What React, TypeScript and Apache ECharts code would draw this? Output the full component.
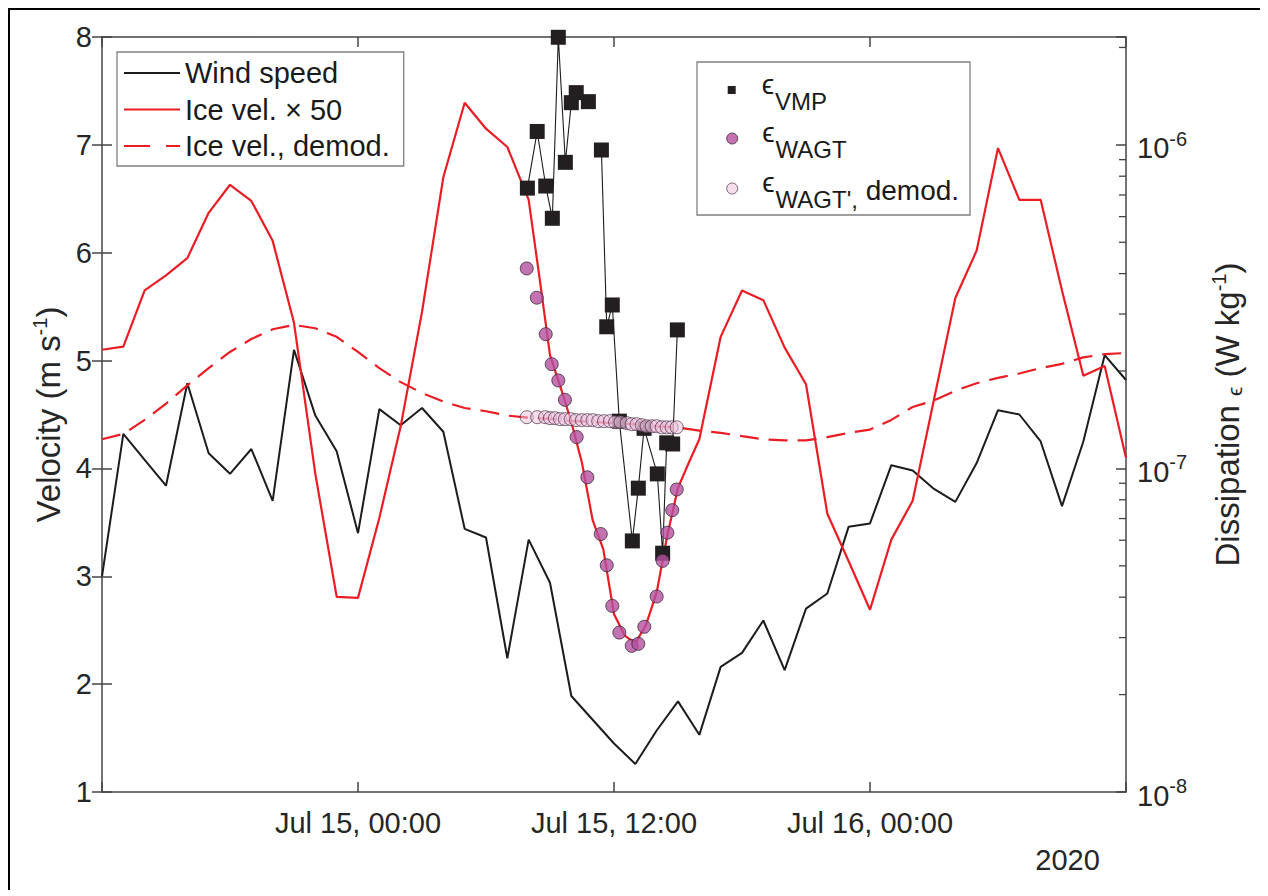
import React, { useEffect, useRef } from 'react';
import * as echarts from 'echarts';

// ---------- data (hours since 2020-07-14 12:00) ----------
const hours = [0, 1, 2, 3, 4, 5, 6, 7, 8, 9, 10, 11, 12, 13, 14, 15, 16, 17, 18, 19, 20, 21, 22, 23, 24,
  25, 26, 27, 28, 29, 30, 31, 32, 33, 34, 35, 36, 37, 38, 39, 40, 41, 42, 43, 44, 45, 46, 47, 48];

const windSpeed = [3.00, 4.32, 4.08, 3.84, 4.79, 4.14, 3.95, 4.18, 3.70, 5.10, 4.49, 4.16, 3.40, 4.55, 4.40,
  4.56, 4.34, 3.44, 3.36, 2.24, 3.34, 2.94, 1.89, 1.67, 1.45, 1.26, 1.57, 1.84, 1.53, 2.16, 2.29, 2.59, 2.13,
  2.70, 2.84, 3.46, 3.49, 4.03, 3.98, 3.81, 3.69, 4.05, 4.54, 4.50, 4.25, 3.65, 4.25, 5.05, 4.82];

const iceDemod = [4.27, 4.32, 4.45, 4.60, 4.77, 4.93, 5.08, 5.20, 5.29, 5.33, 5.30, 5.22, 5.08, 4.93, 4.80,
  4.70, 4.62, 4.56, 4.53, 4.49, 4.47, 4.46, 4.44, 4.43, 4.42, 4.41, 4.39, 4.38, 4.35, 4.33, 4.30, 4.27, 4.26,
  4.26, 4.29, 4.33, 4.36, 4.45, 4.57, 4.63, 4.72, 4.79, 4.84, 4.88, 4.93, 4.97, 5.03, 5.06, 5.07];

const iceHours = [0, 1, 2, 3, 4, 5, 6, 7, 8, 9, 10, 11, 12, 13, 14, 15, 16, 17, 18, 19, 20, 20.5, 21, 21.5,
  22, 22.5, 23, 23.5, 24, 24.5, 25, 25.5, 26, 26.5, 27, 27.5, 28, 29, 30, 31, 32, 33, 34, 35, 36, 37, 38, 39,
  40, 41, 42, 43, 44, 45, 46, 47, 48];
const iceVel50 = [5.10, 5.13, 5.65, 5.79, 5.95, 6.37, 6.63, 6.48, 6.11, 5.35, 3.95, 2.81, 2.80, 3.54, 4.39,
  5.45, 6.70, 7.39, 7.15, 6.98, 6.49, 5.78, 5.05, 4.75, 4.43, 4.05, 3.52, 3.25, 2.65, 2.45, 2.38, 2.55, 2.85,
  3.38, 3.82, 4.05, 4.27, 5.22, 5.65, 5.56, 5.12, 4.78, 3.58, 3.14, 2.69, 3.34, 3.70, 4.64, 5.58, 6.02, 6.97,
  6.49, 6.49, 5.65, 4.86, 4.95, 4.10];

const vmpHours = [19.94, 20.40, 20.80, 21.11, 21.39, 21.72, 22.00, 22.23, 22.80, 23.41, 23.66, 23.92, 24.25,
  24.86, 25.14, 25.41, 26.03, 26.28, 26.47, 26.75, 26.97];
const vmpEps = [7.35e-7, 1.10e-6, 7.46e-7, 5.93e-7, 2.15e-6, 8.83e-7, 1.35e-6, 1.45e-6, 1.36e-6, 9.64e-7,
  2.74e-7, 3.20e-7, 1.40e-7, 5.97e-8, 8.69e-8, 1.33e-7, 9.62e-8, 5.47e-8, 1.20e-7, 1.19e-7, 2.68e-7];
const vmpGapAfter = 8; // no connecting line between these two profiles

const wagtHours = [19.91, 20.38, 20.80, 21.08, 21.39, 21.70, 22.25, 22.75, 23.38, 23.66, 23.92, 24.25, 24.83,
  25.14, 25.42, 26.00, 26.28, 26.50, 26.73, 26.94];
const wagtEps = [4.15e-7, 3.37e-7, 2.60e-7, 2.10e-7, 1.87e-7, 1.63e-7, 1.25e-7, 9.39e-8, 6.27e-8, 5.02e-8,
  3.76e-8, 3.11e-8, 2.83e-8, 2.87e-8, 3.24e-8, 4.02e-8, 5.18e-8, 6.33e-8, 7.43e-8, 8.61e-8];

const demodHours = [19.91, 20.40, 20.77, 21.00, 21.23, 21.47, 21.70, 21.97, 22.22, 22.49, 22.75, 23.00, 23.26,
  23.53, 23.81, 24.05, 24.31, 24.60, 24.83, 25.06, 25.30, 25.53, 25.77, 26.00, 26.24, 26.47, 26.70, 26.94];
const demodEps = [1.44e-7, 1.44e-7, 1.44e-7, 1.43e-7, 1.43e-7, 1.42e-7, 1.42e-7, 1.42e-7, 1.41e-7, 1.41e-7,
  1.41e-7, 1.41e-7, 1.40e-7, 1.40e-7, 1.40e-7, 1.39e-7, 1.39e-7, 1.38e-7, 1.37e-7, 1.37e-7, 1.36e-7, 1.35e-7,
  1.35e-7, 1.35e-7, 1.34e-7, 1.34e-7, 1.34e-7, 1.34e-7];

const xTickHours = [12, 24, 36];
const xTickLabels = ['Jul 15, 00:00', 'Jul 15, 12:00', 'Jul 16, 00:00'];
const logMinorTicks = [2e-8, 3e-8, 4e-8, 5e-8, 6e-8, 7e-8, 8e-8, 9e-8, 2e-7, 3e-7, 4e-7, 5e-7, 6e-7, 7e-7,
  8e-7, 9e-7, 2e-6];
const yearLabel = '2020';

// ---------- styles ----------
const FONT = 'Liberation Sans, Arial, Helvetica, sans-serif';
const AX = '#444444';
const TXT = '#262626';
const RED = '#ea1c24';
const BLK = '#1c1c1c';

const NAME_WIND = 'Wind speed';
const NAME_ICE = 'Ice vel. × 50';
const NAME_ICE_DEMOD = 'Ice vel., demod.';
const NAME_VMP = 'ϵVMP';
const NAME_WAGT = 'ϵWAGT';
const NAME_DEMOD = "ϵWAGT', demod.";

const ICON_SOLID = 'path://M0,0H56V2.2H0Z';
const ICON_DASHED = 'path://M0,0H26V2.2H0Z M42,0H56V2.2H42Z';

function epsRich(padLeft: number) {
  const c = '#1a1a1a';
  return {
    e: { fontSize: 28, lineHeight: 40, verticalAlign: 'top', padding: [0, 0, 0, padLeft], fontFamily: FONT, color: c },
    s: { fontSize: 24, lineHeight: 40, verticalAlign: 'top', padding: [19.3, 0, 0, 1], fontFamily: FONT, color: c },
    d: { fontSize: 28, lineHeight: 40, verticalAlign: 'top', padding: [7.9, 0, 0, 0], fontFamily: FONT, color: c },
  };
}
const epsFormatter = (name: string) => {
  if (name === NAME_VMP) return '{e|ϵ}{s|VMP}';
  if (name === NAME_WAGT) return '{e|ϵ}{s|WAGT}';
  return "{e|ϵ}{s|WAGT',}{d| demod.}";
};

export default function App() {
  const ref = useRef<HTMLDivElement>(null);

  useEffect(() => {
    if (!ref.current) return;
    const chart = echarts.init(ref.current, null, { renderer: 'svg' });

    const windData = hours.map((h, i) => [h, windSpeed[i]]);
    const demodLine = hours.map((h, i) => [h, iceDemod[i]]);
    const iceData = iceHours.map((h, i) => [h, iceVel50[i]]);
    const vmpData: any[] = [];
    vmpHours.forEach((h, i) => {
      vmpData.push([h, vmpEps[i]]);
      if (i === vmpGapAfter) vmpData.push([h, '-']);
    });
    const wagtData = wagtHours.map((h, i) => [h, wagtEps[i]]);
    const demodData = demodHours.map((h, i) => [h, demodEps[i]]);

    const axisLine = { show: true, onZero: false, lineStyle: { color: AX, width: 1.5 } };
    const tick = { show: true, inside: true, length: 10, lineStyle: { color: AX, width: 1.5 } };

    const option: any = {
      animation: false,
      backgroundColor: '#fff',
      textStyle: { fontFamily: FONT },
      grid: { left: 92, top: 27, width: 1024, height: 755, containLabel: false, outerBoundsMode: 'none' },
      xAxis: [
        {
          type: 'value', min: 0, max: 48, interval: 12, position: 'bottom',
          axisLine, axisTick: tick, splitLine: { show: false },
          axisLabel: {
            fontSize: 29, color: TXT, fontFamily: FONT, margin: 16,
            formatter: (v: number) => {
              const k = xTickHours.indexOf(v);
              return k >= 0 ? xTickLabels[k] : '';
            },
          },
        },
        {
          type: 'value', min: 0, max: 48, interval: 12, position: 'top',
          axisLine, axisTick: tick, splitLine: { show: false }, axisLabel: { show: false },
        },
      ],
      yAxis: [
        {
          type: 'value', min: 1, max: 8, interval: 1, position: 'left',
          axisLine, axisTick: tick, splitLine: { show: false },
          axisLabel: { fontSize: 29, color: TXT, fontFamily: FONT, margin: 10 },
          name: '{n|Velocity (m s}{sup|-1}{n|)}',
          nameLocation: 'middle', nameGap: 31,
          nameTextStyle: {
            color: TXT, fontFamily: FONT, fontSize: 33,
            rich: {
              n: { fontSize: 33, lineHeight: 36, fontFamily: FONT, color: TXT },
              sup: { fontSize: 20, lineHeight: 21, verticalAlign: 'top', fontFamily: FONT, color: TXT },
            },
          },
        },
        {
          type: 'log', logBase: 10, min: 1e-8, max: 2.1544e-6, position: 'right',
          axisLine, axisTick: tick, splitLine: { show: false }, minorTick: { show: false },
          axisLabel: {
            margin: 11, color: TXT, fontFamily: FONT,
            formatter: (v: number) => {
              const e = Math.log10(v);
              const r = Math.round(e);
              if (Math.abs(e - r) > 1e-6) return '';
              return '{b|10}{s|' + r + '}';
            },
            rich: {
              b: { fontSize: 29, lineHeight: 32, padding: [5, 0, 0, 0], verticalAlign: 'top', fontFamily: FONT, color: TXT },
              s: { fontSize: 20, verticalAlign: 'top', fontFamily: FONT, color: TXT },
            },
          },
          name: '{n|Dissipation }{e|ϵ}{n| (W kg}{sup|-1}{n|)}',
          nameLocation: 'middle', nameGap: 83,
          nameTextStyle: {
            color: TXT, fontFamily: FONT, fontSize: 33,
            rich: {
              n: { fontSize: 33, lineHeight: 36, fontFamily: FONT, color: TXT },
              e: { fontSize: 21, lineHeight: 27.5, verticalAlign: 'bottom', fontFamily: FONT, color: TXT },
              sup: { fontSize: 20, lineHeight: 21, verticalAlign: 'top', fontFamily: FONT, color: TXT },
            },
          },
        },
        {
          type: 'value', min: 1, max: 8, interval: 1, position: 'right',
          axisLine: { show: false }, axisTick: tick, splitLine: { show: false }, axisLabel: { show: false },
        },
      ],
      legend: [
        {
          data: [
            { name: NAME_WIND, icon: ICON_SOLID },
            { name: NAME_ICE, icon: ICON_SOLID },
            { name: NAME_ICE_DEMOD, icon: ICON_DASHED },
          ],
          orient: 'vertical', left: 107, top: 42, padding: [6, 14, 5, 7],
          itemGap: 6.5, itemWidth: 56, itemHeight: 14, selectedMode: false,
          backgroundColor: '#fff', borderColor: '#808080', borderWidth: 1.3, borderRadius: 0,
          itemStyle: { borderWidth: 0 },
          textStyle: { fontSize: 29, lineHeight: 30, color: '#1a1a1a', fontFamily: FONT },
        },
        {
          data: [{ name: NAME_VMP, icon: 'rect' }],
          orient: 'vertical', left: 717.7, top: 60, padding: 0,
          itemWidth: 8, itemHeight: 8, selectedMode: false, z: 5,
          formatter: epsFormatter,
          textStyle: { fontFamily: FONT, color: '#1a1a1a', rich: epsRich(21) },
        },
        {
          data: [{ name: NAME_WAGT, icon: 'circle' }],
          orient: 'vertical', left: 716.2, top: 108.5, padding: 0,
          itemWidth: 11, itemHeight: 11, selectedMode: false, z: 5,
          formatter: epsFormatter,
          itemStyle: { borderWidth: 1 },
          textStyle: { fontFamily: FONT, color: '#1a1a1a', rich: epsRich(19.5) },
        },
        {
          data: [{ name: NAME_DEMOD, icon: 'circle' }],
          orient: 'vertical', left: 716.2, top: 158.5, padding: 0,
          itemWidth: 11, itemHeight: 11, selectedMode: false, z: 5,
          formatter: epsFormatter,
          itemStyle: { borderWidth: 1 },
          textStyle: { fontFamily: FONT, color: '#1a1a1a', rich: epsRich(19.5) },
        },
      ],
      graphic: [
        {
          type: 'rect', z: 3, silent: true,
          shape: { x: 687, y: 52, width: 273, height: 153 },
          style: { fill: '#fff', stroke: '#808080', lineWidth: 1.3 },
        },
        {
          type: 'text', z: 3, silent: true, x: 1057.5, y: 835,
          style: {
            text: yearLabel, fontSize: 29, fontFamily: FONT, fill: TXT,
            align: 'center', verticalAlign: 'top', textAlign: 'center', textVerticalAlign: 'top',
          },
        },
      ],
      series: [
        {
          name: NAME_WIND, type: 'line', xAxisIndex: 0, yAxisIndex: 0, data: windData,
          symbol: 'none', lineStyle: { color: BLK, width: 2 }, itemStyle: { color: BLK }, z: 2,
        },
        {
          name: NAME_ICE, type: 'line', xAxisIndex: 0, yAxisIndex: 0, data: iceData,
          symbol: 'none', lineStyle: { color: RED, width: 2.2 }, itemStyle: { color: RED }, z: 2,
        },
        {
          name: NAME_ICE_DEMOD, type: 'line', xAxisIndex: 0, yAxisIndex: 0, data: demodLine,
          symbol: 'none', lineStyle: { color: RED, width: 2.2, type: [19, 10] }, itemStyle: { color: RED }, z: 2,
        },
        {
          name: NAME_VMP, type: 'line', xAxisIndex: 0, yAxisIndex: 1, data: vmpData,
          symbol: 'rect', symbolSize: 15, showAllSymbol: true, connectNulls: false,
          lineStyle: { color: BLK, width: 1.1 }, itemStyle: { color: '#231f20' }, z: 3,
        },
        {
          name: NAME_WAGT, type: 'scatter', xAxisIndex: 0, yAxisIndex: 1, data: wagtData,
          symbol: 'circle', symbolSize: 13,
          itemStyle: { color: '#b4509f', borderColor: '#3a2a3a', borderWidth: 1 }, z: 4,
        },
        {
          name: NAME_DEMOD, type: 'scatter', xAxisIndex: 0, yAxisIndex: 1, data: demodData,
          symbol: 'circle', symbolSize: 13,
          itemStyle: { color: 'rgba(238, 190, 218, 0.65)', borderColor: 'rgba(50, 30, 50, 0.8)', borderWidth: 1 }, z: 4,
        },
        {
          name: 'logMinorTicks', type: 'custom', xAxisIndex: 0, yAxisIndex: 1,
          data: logMinorTicks.map((v) => [0, v]), encode: { x: 0, y: 1 }, silent: true, clip: false, z: 5,
          renderItem: (params: any, api: any) => {
            const y = api.coord([0, api.value(1)])[1];
            const xr = params.coordSys.x + params.coordSys.width;
            return {
              type: 'line',
              shape: { x1: xr - 7, y1: y, x2: xr, y2: y },
              style: { stroke: AX, lineWidth: 1.3 },
            };
          },
        },
      ],
    };

    chart.setOption(option);
    return () => chart.dispose();
  }, []);

  return (
    <div style={{ borderTop: '2px solid #000', borderLeft: '2px solid #000', width: 1250, height: 880 }}>
      <div ref={ref} style={{ width: 1250, height: 880 }} />
    </div>
  );
}
